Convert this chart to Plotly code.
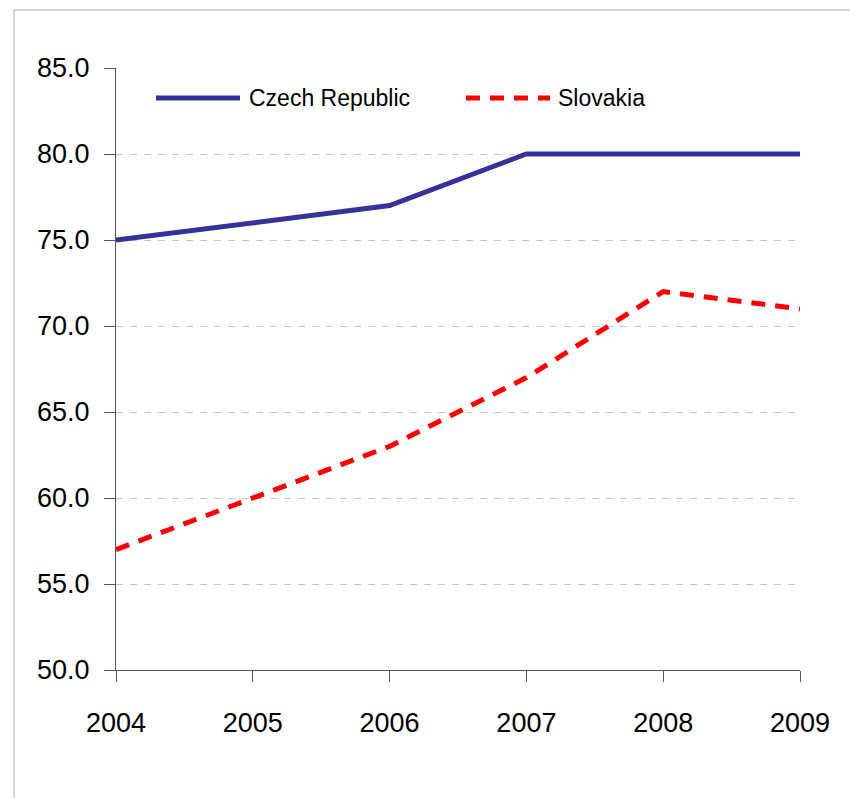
import plotly.graph_objects as go

years = [2004, 2005, 2006, 2007, 2008, 2009]
czech = [75.0, 76.0, 77.0, 80.0, 80.0, 80.0]
slovakia = [57.0, 60.0, 63.0, 67.0, 72.0, 71.0]
y_ticks = [50, 55, 60, 65, 70, 75, 80, 85]

NAVY = "#333399"
RED = "#FF0000"
FONT = "Liberation Sans, Arial, sans-serif"

fig = go.Figure()
fig.add_trace(go.Scatter(x=years, y=czech, mode="lines", name="Czech Republic",
                         line=dict(color=NAVY, width=5), showlegend=False))
fig.add_trace(go.Scatter(x=years, y=slovakia, mode="lines", name="Slovakia",
                         line=dict(color=RED, width=5, dash="14px,10px"), showlegend=False))

W, H = 850, 798
L, R, T, B = 116, 50, 68, 128
pw, ph = W - L - R, H - T - B


def px(x):
    return (x - L) / pw


def py(y):
    return (H - B - y) / ph


shapes = [
    # outer frame
    dict(type="rect", xref="paper", yref="paper", x0=px(14), x1=px(W + 5),
         y0=py(H + 5), y1=py(10), line=dict(color="#c8c8c8", width=1.5), layer="below"),
    # white backdrop behind the legend
    dict(type="rect", xref="paper", yref="paper", x0=px(117), x1=px(666),
         y0=py(122), y1=py(66), fillcolor="white", line=dict(width=0), layer="between"),
    # legend samples
    dict(type="line", xref="paper", yref="paper", x0=px(156), x1=px(240), y0=py(98), y1=py(98),
         line=dict(color=NAVY, width=5)),
    dict(type="line", xref="paper", yref="paper", x0=px(466), x1=px(550), y0=py(98), y1=py(98),
         line=dict(color=RED, width=5, dash="14px,10px")),
]

annotations = [
    dict(text="Czech Republic", xref="paper", yref="paper", x=px(247), y=py(98),
         xanchor="left", yanchor="middle", showarrow=False,
         font=dict(family=FONT, size=23, color="black")),
    dict(text="Slovakia", xref="paper", yref="paper", x=px(556), y=py(98),
         xanchor="left", yanchor="middle", showarrow=False,
         font=dict(family=FONT, size=23, color="black")),
]

fig.update_layout(
    width=W, height=H,
    margin=dict(l=L, r=R, t=T, b=B),
    paper_bgcolor="white", plot_bgcolor="white",
    font=dict(family=FONT, color="black"),
    shapes=shapes, annotations=annotations,
    showlegend=False,
)
fig.update_xaxes(
    range=[2004, 2009], tickvals=years, ticktext=[str(y) for y in years],
    showgrid=False, zeroline=False,
    showline=True, linecolor="#555555", linewidth=1.3,
    ticks="outside", ticklen=11, tickcolor="#555555", tickwidth=1.3,
    tickfont=dict(size=27), ticklabelstandoff=17,
)
fig.update_yaxes(
    range=[50, 85], tickvals=y_ticks, ticktext=[f"{v:.1f}" for v in y_ticks],
    showgrid=True, gridcolor="#c6c6c6", gridwidth=1, griddash="7px,7px",
    zeroline=False,
    showline=True, linecolor="#555555", linewidth=1.3,
    ticks="outside", ticklen=11, tickcolor="#555555", tickwidth=1.3,
    tickfont=dict(size=27), ticklabelstandoff=9,
)

fig.write_html("out.html")
